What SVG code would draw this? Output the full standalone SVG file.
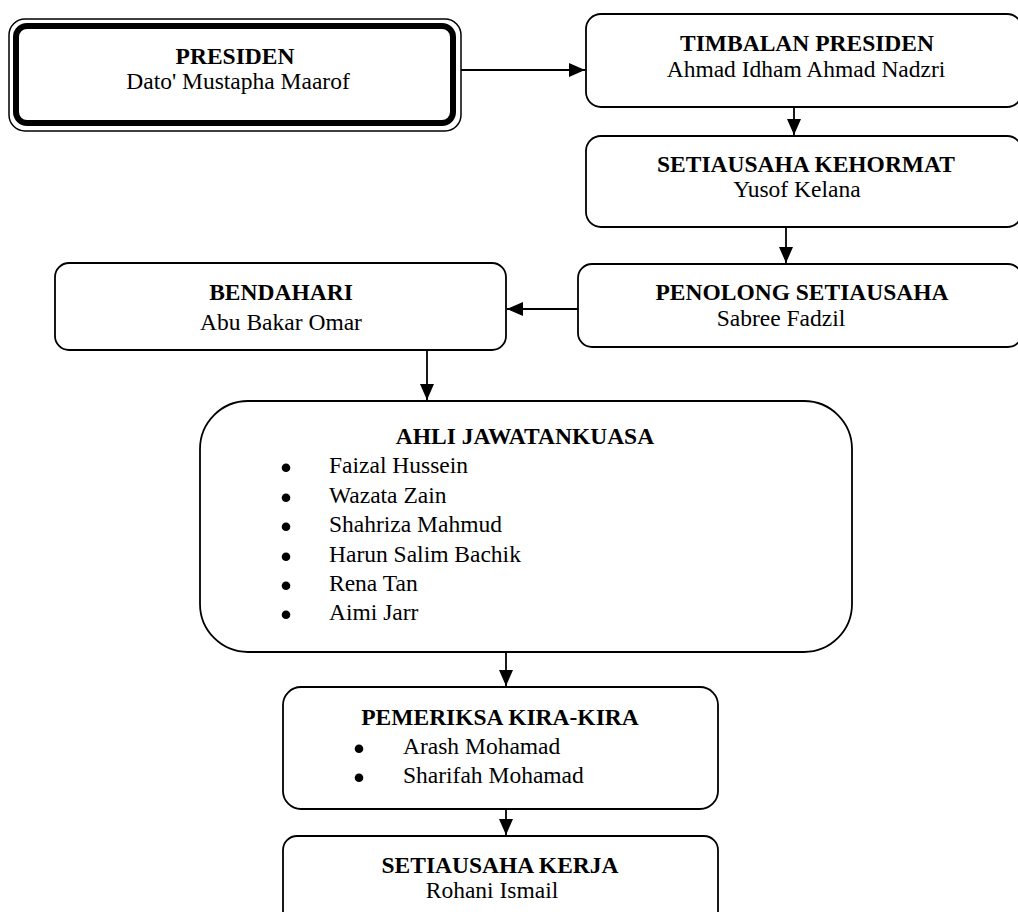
<svg xmlns="http://www.w3.org/2000/svg" width="1018" height="912" viewBox="0 0 1018 912">
<style>
.box{fill:#fff;stroke:#000;stroke-width:1.8}
.t{font-family:"Liberation Serif","Times New Roman",serif;font-size:23.5px;fill:#000}
.b{font-weight:bold}
.c{text-anchor:middle}
.con{fill:none;stroke:#000;stroke-width:1.8}
.bul{fill:#000}
</style>
<defs>
<marker id="arr" viewBox="0 0 16 14" refX="16" refY="7" markerWidth="16" markerHeight="14" markerUnits="userSpaceOnUse" orient="auto">
<path d="M0,0 L16,7 L0,14 z" fill="#000"/>
</marker>
</defs>
<rect width="1018" height="912" fill="#fff"/>
<g id="connectors">
<path class="con" d="M461,70 H585" marker-end="url(#arr)"/>
<path class="con" d="M794,107 V135" marker-end="url(#arr)"/>
<path class="con" d="M786,227 V263" marker-end="url(#arr)"/>
<path class="con" d="M578,309 H507" marker-end="url(#arr)"/>
<path class="con" d="M427,350 V400" marker-end="url(#arr)"/>
<path class="con" d="M506,652 V686" marker-end="url(#arr)"/>
<path class="con" d="M506,809 V835" marker-end="url(#arr)"/>
</g>
<g id="presiden">
<rect x="9" y="19" width="452" height="112" rx="16" fill="#fff" stroke="#000" stroke-width="1.5"/>
<rect x="16" y="26" width="437" height="97" rx="11" fill="#fff" stroke="#000" stroke-width="6"/>
<text class="t b c" x="235" y="64">PRESIDEN</text>
<text class="t c" x="238" y="89">Dato' Mustapha Maarof</text>
</g>
<g id="timbalan">
<rect class="box" x="586" y="14" width="436" height="93" rx="15"/>
<text class="t b c" x="807" y="51">TIMBALAN PRESIDEN</text>
<text class="t c" x="806" y="77">Ahmad Idham Ahmad Nadzri</text>
</g>
<g id="kehormat">
<rect class="box" x="586" y="136" width="436" height="91" rx="15"/>
<text class="t b c" x="806" y="172">SETIAUSAHA KEHORMAT</text>
<text class="t c" x="797" y="197">Yusof Kelana</text>
</g>
<g id="penolong">
<rect class="box" x="578" y="264" width="444" height="83" rx="14"/>
<text class="t b c" x="802" y="300">PENOLONG SETIAUSAHA</text>
<text class="t c" x="781" y="326">Sabree Fadzil</text>
</g>
<g id="bendahari">
<rect class="box" x="55" y="263" width="451" height="87" rx="14"/>
<text class="t b c" x="281" y="300">BENDAHARI</text>
<text class="t c" x="281" y="330">Abu Bakar Omar</text>
</g>
<g id="ahli">
<rect class="box" x="200" y="401" width="652" height="251" rx="48"/>
<text class="t b c" x="525" y="444">AHLI JAWATANKUASA</text>
<circle class="bul" cx="286" cy="467.7" r="4.3"/><text class="t" x="329" y="473">Faizal Hussein</text>
<circle class="bul" cx="286" cy="497.7" r="4.3"/><text class="t" x="329" y="503">Wazata Zain</text>
<circle class="bul" cx="286" cy="526.7" r="4.3"/><text class="t" x="329" y="532">Shahriza Mahmud</text>
<circle class="bul" cx="286" cy="556.7" r="4.3"/><text class="t" x="329" y="562">Harun Salim Bachik</text>
<circle class="bul" cx="286" cy="585.7" r="4.3"/><text class="t" x="329" y="591">Rena Tan</text>
<circle class="bul" cx="286" cy="614.7" r="4.3"/><text class="t" x="329" y="620">Aimi Jarr</text>
</g>
<g id="pemeriksa">
<rect class="box" x="283" y="687" width="435" height="122" rx="18"/>
<text class="t b c" x="500" y="725">PEMERIKSA KIRA-KIRA</text>
<circle class="bul" cx="359" cy="748.7" r="4.3"/><text class="t" x="403" y="754">Arash Mohamad</text>
<circle class="bul" cx="359" cy="777.7" r="4.3"/><text class="t" x="403" y="783">Sharifah Mohamad</text>
</g>
<g id="kerja">
<rect class="box" x="283" y="836" width="435" height="100" rx="14"/>
<text class="t b c" x="500" y="873">SETIAUSAHA KERJA</text>
<text class="t c" x="492" y="898">Rohani Ismail</text>
</g>
</svg>
